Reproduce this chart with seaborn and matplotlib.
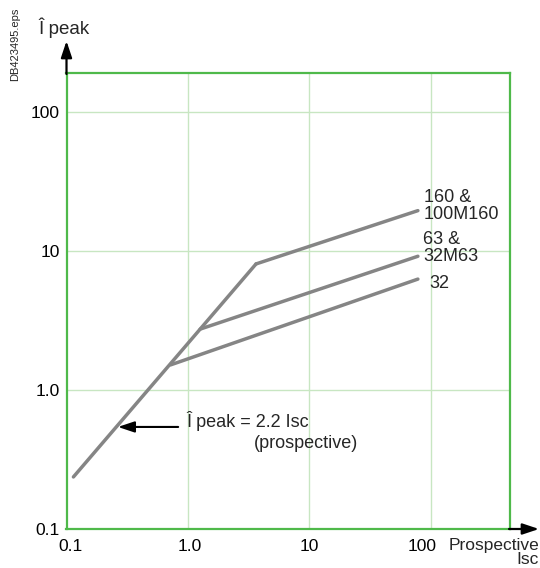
import matplotlib
matplotlib.use("Agg")
import matplotlib.pyplot as plt
import matplotlib.transforms as mtransforms
import numpy as np
import pandas as pd
import seaborn as sns

# ---- data ----
main_x = [0.114, 3.63]
main_y = [0.237, 8.1]
c160_x = [3.63, 78]
c160_y = [8.1, 19.6]
c63_x = [1.26, 78]
c63_y = [2.75, 9.2]
c32_x = [0.72, 78]
c32_y = [1.52, 6.3]

tick_vals = [0.1, 1, 10, 100]
x_tick_labels = ["0.1", "1.0", "10", "100"]
y_tick_labels = ["0.1", "1.0", "10", "100"]

curve_labels = [("160 &", "100M160"), ("63 &", "32M63"), ("32",)]
annot_tip = (0.265, 0.543)
annot_tail = (0.83, 0.543)

sns.set_style("white")
plt.rcParams["font.family"] = ["Liberation Sans", "DejaVu Sans"]

W, H = 540, 568
fig = plt.figure(figsize=(W / 100, H / 100), dpi=100)
L, R, T, B = 66.5, 510, 73, 529
ax = fig.add_axes([L / W, 1 - B / H, (R - L) / W, (B - T) / H])


def px(x, y):
    return (x / W, 1 - y / H)


rows = []
for name, xs, ys in [("main", main_x, main_y), ("160", c160_x, c160_y),
                     ("63", c63_x, c63_y), ("32", c32_x, c32_y)]:
    for xv, yv in zip(xs, ys):
        rows.append({"Isc": xv, "Ipeak": yv, "curve": name})
df = pd.DataFrame(rows)

sns.lineplot(data=df, x="Isc", y="Ipeak", hue="curve", units="curve",
             estimator=None, sort=False, legend=False,
             palette={"main": "#858585", "160": "#858585", "63": "#858585", "32": "#858585"},
             linewidth=2.5, ax=ax, zorder=3)

ax.set_xscale("log")
ax.set_yscale("log")
ax.set_xlim(0.1, 447)
ax.set_ylim(0.1, 192)
ax.set_xticks(tick_vals)
ax.set_xticklabels(x_tick_labels)
ax.set_yticks(tick_vals)
ax.set_yticklabels(y_tick_labels)
ax.minorticks_off()
ax.tick_params(axis="both", length=0, labelsize=12.5, colors="black")
ax.tick_params(axis="y", pad=5)
ax.tick_params(axis="x", pad=7)
ax.set_xlabel("")
ax.set_ylabel("")
ax.grid(True, which="major", color="#c8e6c2", linewidth=1.0)
ax.set_axisbelow(True)
for s in ax.spines.values():
    s.set_color("#4fb94a")
    s.set_linewidth(1.6)
    s.set_visible(True)

# nudge x tick labels as in the reference
xl = ax.get_xticklabels()
xl[-1].set_transform(xl[-1].get_transform() + mtransforms.ScaledTranslation(-9 / 100, 0, fig.dpi_scale_trans))
xl[0].set_transform(xl[0].get_transform() + mtransforms.ScaledTranslation(4 / 100, 0, fig.dpi_scale_trans))
xl[1].set_transform(xl[1].get_transform() + mtransforms.ScaledTranslation(2 / 100, 0, fig.dpi_scale_trans))

astyle = "-|>,head_length=0.9,head_width=0.3"
# axis arrows
fig.add_artist(matplotlib.patches.FancyArrowPatch(px(L, T + 1), px(L, 41), transform=fig.transFigure,
                                                  arrowstyle=astyle, mutation_scale=11,
                                                  color="black", lw=1.6, shrinkA=0, shrinkB=0))
fig.add_artist(matplotlib.patches.FancyArrowPatch(px(R - 1, B), px(539, B), transform=fig.transFigure,
                                                  arrowstyle=astyle, mutation_scale=11,
                                                  color="black", lw=1.6, shrinkA=0, shrinkB=0))

fs = 13
fig.text(*px(38, 28), "Î peak", fontsize=13.5, ha="left", va="center")
fig.text(*px(539, 567), "Prospective\nIsc", fontsize=12.5, ha="right", va="bottom",
         multialignment="right", linespacing=0.95)
fig.text(*px(15, 44), "DB423495.eps", fontsize=8, rotation=90, ha="center", va="center")

# curve labels
fig.text(*px(424, 197), curve_labels[0][0], fontsize=fs, ha="left", va="center")
fig.text(*px(424, 214), curve_labels[0][1], fontsize=fs, ha="left", va="center")
fig.text(*px(423, 239), curve_labels[1][0], fontsize=fs, ha="left", va="center")
fig.text(*px(423, 256), curve_labels[1][1], fontsize=fs, ha="left", va="center")
fig.text(*px(429, 284), curve_labels[2][0], fontsize=fs, ha="left", va="center")

# annotation
ax.annotate("", xy=annot_tip, xytext=annot_tail, xycoords="data",
            arrowprops=dict(arrowstyle=astyle, color="black",
                            lw=1.5, mutation_scale=11, shrinkA=0, shrinkB=0))
fig.text(*px(186, 421), "Î peak = 2.2 Isc", fontsize=fs, ha="left", va="center")
fig.text(*px(254, 443), "(prospective)", fontsize=fs, ha="left", va="center")

fig.savefig("out.png", dpi=100)
